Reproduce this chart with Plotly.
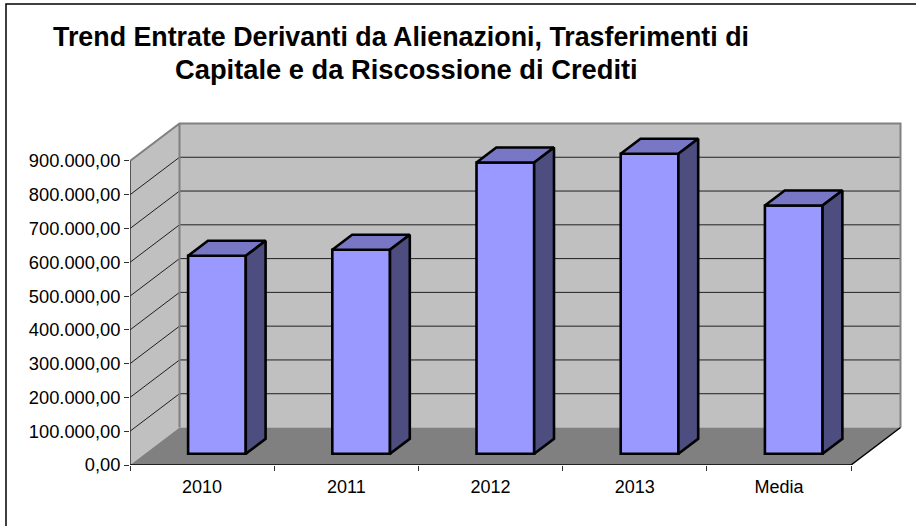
import plotly.graph_objects as go

# ---- data ----
categories = ["2010", "2011", "2012", "2013", "Media"]
values = [586000, 604000, 862000, 888000, 735000]
y_ticks = [0, 100000, 200000, 300000, 400000, 500000, 600000, 700000, 800000, 900000]
y_labels = ["0,00", "100.000,00", "200.000,00", "300.000,00", "400.000,00",
            "500.000,00", "600.000,00", "700.000,00", "800.000,00", "900.000,00"]
title_lines = ["Trend Entrate Derivanti da Alienazioni, Trasferimenti di",
               "Capitale e da Riscossione di Crediti"]

# ---- pseudo-3D projection, in axis units ----
W, H = 916, 526
X0_PX, Y0_PX = 130.0, 465.0      # pixel of x=0, y=0
PX_PER_CAT = 144.2
PX_PER_UNIT = 33.78 / 100000
RIGHT_PX, TOP_PX = 905.0, 119.0  # plot area limits
DX = 49.5 / PX_PER_CAT           # depth shift along x (categories)
DY = 37.5 / PX_PER_UNIT          # depth shift along y (value units)
BAR_W = 0.4
D_FRONT, D_BACK = 0.3, 0.7
N = len(categories)
Y_MAX = y_ticks[-1]

WALL, FLOOR, EDGE = "#C0C0C0", "#808080", "#808080"
FRONT, TOP, SIDE = "#9999FF", "#7777C6", "#4D4D80"
BAR_EDGE = 2.6


def proj(x, y, d):
    return x + d * DX, y + d * DY


def poly(points):
    path = "M " + " L ".join(f"{x},{y}" for x, y in points) + " Z"
    return path


shapes = []
# chart frame, only left and top edges fall inside the window
shapes.append(dict(type="rect", xref="paper", yref="paper",
                   x0=(6 - X0_PX) / (RIGHT_PX - X0_PX), x1=1.2,
                   y0=-0.3, y1=(Y0_PX - 4) / (Y0_PX - TOP_PX),
                   line=dict(color="#000000", width=1.5), layer="below"))
# left wall, back wall, floor
shapes.append(dict(type="path", layer="below", xref="x", yref="y", line=dict(width=0), fillcolor=WALL,
                   path=poly([proj(0, 0, 0), proj(0, 0, 1), proj(0, Y_MAX, 1), proj(0, Y_MAX, 0)])))
shapes.append(dict(type="path", layer="below", xref="x", yref="y", line=dict(width=0), fillcolor=WALL,
                   path=poly([proj(0, 0, 1), proj(N, 0, 1), proj(N, Y_MAX, 1), proj(0, Y_MAX, 1)])))
shapes.append(dict(type="path", layer="below", xref="x", yref="y", line=dict(width=0), fillcolor=FLOOR,
                   path=poly([proj(0, 0, 0), proj(N, 0, 0), proj(N, 0, 1), proj(0, 0, 1)])))
# grid lines on both walls
for t in y_ticks[1:-1]:
    a, b, c = proj(0, t, 0), proj(0, t, 1), proj(N, t, 1)
    shapes.append(dict(type="path", layer="below", xref="x", yref="y",
                       line=dict(color="#202020", width=1),
                       path=f"M {a[0]},{a[1]} L {b[0]},{b[1]} L {c[0]},{c[1]}"))
# wall outline
a, b, c, d, e = proj(0, Y_MAX, 0), proj(0, Y_MAX, 1), proj(N, Y_MAX, 1), proj(N, 0, 1), proj(0, 0, 1)
shapes.append(dict(type="path", layer="below", xref="x", yref="y",
                   line=dict(color=EDGE, width=2),
                   path=f"M {a[0]},{a[1]} L {b[0]},{b[1]} L {c[0]},{c[1]} L {d[0]},{d[1]}"))
shapes.append(dict(type="path", layer="below", xref="x", yref="y",
                   line=dict(color=EDGE, width=2),
                   path=f"M {b[0]},{b[1]} L {e[0]},{e[1]}"))

fig = go.Figure()

# front faces of the bars
bar_x = [i + 0.5 + D_FRONT * DX for i in range(N)]
fig.add_trace(go.Bar(x=bar_x, y=values, base=[D_FRONT * DY] * N, width=BAR_W,
                     marker=dict(color=FRONT, line=dict(color="#000000", width=BAR_EDGE)),
                     xaxis="x", yaxis="y", showlegend=False, hoverinfo="skip"))

# top and side faces of the bars
for i, v in enumerate(values):
    lo, hi = i + 0.5 - BAR_W / 2, i + 0.5 + BAR_W / 2
    top = [proj(lo, v, D_FRONT), proj(hi, v, D_FRONT), proj(hi, v, D_BACK), proj(lo, v, D_BACK), proj(lo, v, D_FRONT)]
    side = [proj(hi, 0, D_FRONT), proj(hi, 0, D_BACK), proj(hi, v, D_BACK), proj(hi, v, D_FRONT), proj(hi, 0, D_FRONT)]
    for pts, col in ((top, TOP), (side, SIDE)):
        fig.add_trace(go.Scatter(x=[p[0] for p in pts], y=[p[1] for p in pts], mode="lines",
                                 fill="toself", fillcolor=col, line=dict(color="#000000", width=BAR_EDGE),
                                 showlegend=False, hoverinfo="skip"))

# axis lines and the right floor edge
far = proj(N, 0, 1)
for xs, ys, col in (([0, 0], [0, Y_MAX], "#303030"),
                    ([0, N], [0, 0], "#000000"),
                    ([N, far[0]], [0, far[1]], "#000000")):
    fig.add_trace(go.Scatter(x=xs, y=ys, mode="lines", line=dict(color=col, width=1.5),
                             cliponaxis=False, showlegend=False, hoverinfo="skip"))

# carrier of the secondary x axis, which holds the category tick marks
fig.add_trace(go.Scatter(x=[0], y=[0], mode="markers", marker=dict(opacity=0), xaxis="x2",
                         showlegend=False, hoverinfo="skip"))

x_range = [0, (RIGHT_PX - X0_PX) / PX_PER_CAT]
y_range = [0, (Y0_PX - TOP_PX) / PX_PER_UNIT]
font = "Liberation Sans, Arial, sans-serif"
title_font = dict(family=font, size=26.8, color="#000000", weight="bold")
title_font2 = dict(family=font, size=27.3, color="#000000", weight="bold")

fig.update_layout(
    width=W, height=H, autosize=False,
    margin=dict(l=X0_PX, r=W - RIGHT_PX, t=TOP_PX, b=H - Y0_PX, pad=0),
    paper_bgcolor="#FFFFFF", plot_bgcolor="rgba(0,0,0,0)",
    font=dict(family=font, color="#000000", size=18),
    showlegend=False, barmode="overlay",
    title=dict(text=title_lines[0], x=401 / W, xanchor="center",
               y=1 - 37 / H, yanchor="middle", font=title_font),
    annotations=[dict(text=title_lines[1], xref="paper", yref="paper", showarrow=False,
                      x=(406 - X0_PX) / (RIGHT_PX - X0_PX), y=(Y0_PX - 69) / (Y0_PX - TOP_PX),
                      xanchor="center", yanchor="middle", font=title_font2)],
    xaxis=dict(range=x_range, tickmode="array", tickvals=[i + 0.5 for i in range(N)], ticktext=categories,
               ticks="", showgrid=False, zeroline=False, showline=False,
               ticklabelstandoff=9, tickfont=dict(size=18, family=font)),
    xaxis2=dict(range=x_range, overlaying="x", anchor="y", side="bottom", tickmode="array",
                tickvals=list(range(N + 1)), ticks="outside", ticklen=5, tickwidth=1, tickcolor="#303030",
                showticklabels=False, showgrid=False, zeroline=False, showline=False),
    yaxis=dict(range=y_range, tickmode="array", tickvals=y_ticks, ticktext=y_labels,
               ticks="outside", ticklen=5, tickwidth=1, tickcolor="#303030",
               showgrid=False, zeroline=False, showline=False, tickfont=dict(size=18.3, family=font)),
    shapes=shapes,
)

fig.write_html("out.html", config={"displayModeBar": False},
               post_script="document.body.style.margin='0';document.body.style.overflow='hidden';")
